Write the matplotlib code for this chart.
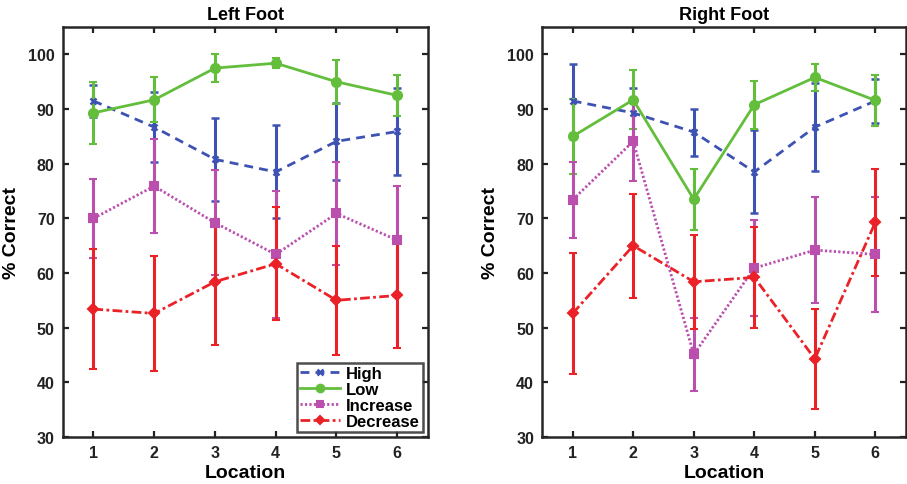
import matplotlib
matplotlib.use("Agg")
import matplotlib.pyplot as plt
from matplotlib.lines import Line2D
import numpy as np

plt.rcParams['font.family'] = ['Liberation Sans', 'DejaVu Sans']
plt.rcParams['font.weight'] = 'bold'

locations = [1, 2, 3, 4, 5, 6]
series_names = ["High", "Low", "Increase", "Decrease"]

# Left Foot
left_high = [91.5, 86.7, 80.8, 78.5, 84.1, 85.9]
left_high_err = [3.0, 6.4, 7.6, 8.5, 7.0, 8.0]
left_low = [89.3, 91.7, 97.5, 98.4, 95.0, 92.5]
left_low_err = [5.6, 4.1, 2.5, 0.9, 4.0, 3.7]
left_inc = [70.0, 75.9, 69.2, 63.4, 70.9, 66.0]
left_inc_err = [7.2, 8.6, 9.6, 11.6, 9.4, 10.0]
left_dec = [53.4, 52.6, 58.4, 61.7, 55.0, 55.9]
left_dec_err = [11.0, 10.5, 11.5, 10.3, 10.0, 9.6]

# Right Foot
right_high = [91.5, 89.3, 85.8, 78.5, 86.7, 91.5]
right_high_err = [6.7, 4.5, 4.3, 7.6, 8.0, 4.0]
right_low = [85.0, 91.7, 73.5, 90.8, 95.8, 91.6]
right_low_err = [6.8, 5.4, 5.6, 4.4, 2.5, 4.7]
right_inc = [73.4, 84.1, 45.1, 60.9, 64.2, 63.4]
right_inc_err = [6.9, 7.2, 6.7, 8.8, 9.7, 10.5]
right_dec = [52.6, 65.0, 58.4, 59.2, 44.3, 69.3]
right_dec_err = [11.0, 9.5, 8.6, 9.2, 9.1, 9.8]

styles = {
    "High": dict(color="#3d52b3", ls=(0, (3.2, 2.2)), marker="x", ms=5, mew=1.8),
    "Low": dict(color="#63be3c", ls="-", marker="o", ms=6.5, mew=1.5),
    "Increase": dict(color="#bb4fae", ls=(0, (0.8, 0.8)), marker="s", ms=6, mew=1.5),
    "Decrease": dict(color="#ea2228", ls=(0, (3.5, 1.2, 1, 1.2)), marker="D", ms=5.5, mew=1.5),
}

fig = plt.figure(figsize=(9.07, 4.85), dpi=100)
ax1 = fig.add_axes([0.0695, 0.097, 0.402, 0.845])
ax2 = fig.add_axes([0.598, 0.097, 0.4005, 0.845])

panels = [
    (ax1, "Left Foot", [(left_high, left_high_err), (left_low, left_low_err),
                        (left_inc, left_inc_err), (left_dec, left_dec_err)]),
    (ax2, "Right Foot", [(right_high, right_high_err), (right_low, right_low_err),
                         (right_inc, right_inc_err), (right_dec, right_dec_err)]),
]

for ax, title, data in panels:
    for name, (vals, errs) in zip(series_names, data):
        st = styles[name]
        ax.errorbar(locations, vals, yerr=errs, color=st["color"], ls=st["ls"],
                    lw=2.0, marker=st["marker"], ms=st["ms"], mew=st["mew"],
                    mfc=st["color"], mec=st["color"], elinewidth=2.2,
                    capsize=3, capthick=2.0, label=name)
    ax.set_xlim(0.5, 6.5)
    ax.set_ylim(30, 105)
    ax.set_xticks(locations)
    ax.set_yticks([30, 40, 50, 60, 70, 80, 90, 100])
    ax.tick_params(direction="in", length=4, width=1.6, top=True, right=True,
                   labelsize=11.5, pad=6, colors="#222222")
    for lab in ax.get_xticklabels() + ax.get_yticklabels():
        lab.set_fontweight("bold")
    for sp in ax.spines.values():
        sp.set_linewidth(1.8)
        sp.set_color("#262626")
    ax.set_title(title, fontsize=13, fontweight="bold", pad=6)
    ax.set_xlabel("Location", fontsize=14, fontweight="bold", labelpad=3)
    ax.set_ylabel("% Correct", fontsize=14, fontweight="bold", labelpad=6)

handles = []
for name in series_names:
    st = styles[name]
    handles.append(Line2D([], [], color=st["color"], ls=st["ls"], lw=2.0,
                          marker=st["marker"], ms=st["ms"] - 1, mew=st["mew"],
                          mfc=st["color"], mec=st["color"]))

leg = ax1.legend(handles, series_names, loc="lower right", frameon=True, fancybox=False,
                 borderpad=0.2, labelspacing=0.05, handlelength=2.4, handletextpad=0.3,
                 borderaxespad=0.3, prop={"weight": "bold", "size": 12})
leg.get_frame().set_edgecolor("#222222")
leg.get_frame().set_linewidth(1.8)

fig.savefig("out.png", dpi=100)
